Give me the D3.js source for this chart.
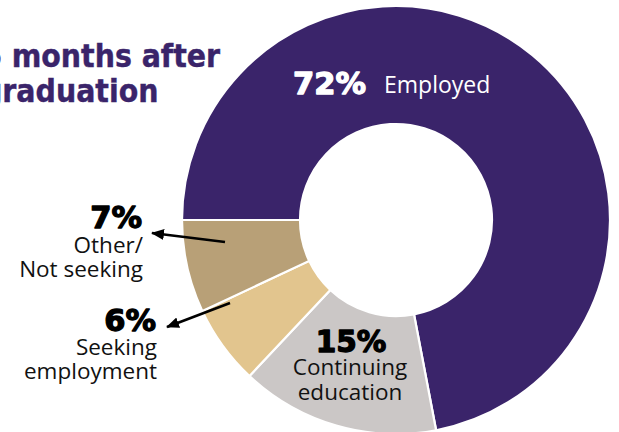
<!DOCTYPE html>
<html>
<head>
<meta charset="utf-8">
<script src="https://cdn.jsdelivr.net/npm/d3@7/dist/d3.min.js"></script>
<style>
  html, body { margin: 0; padding: 0; background: #ffffff; overflow: hidden; }
  svg { display: block; }
</style>
</head>
<body>
<svg id="chart" width="619" height="432"></svg>
<script>
// ---- data ----
const categories = ["Employed", "Continuing education", "Seeking employment", "Other/Not seeking"];
const values = [72, 15, 6, 7];
const labelLines = [["Employed"], ["Continuing", "education"], ["Seeking", "employment"], ["Other/", "Not seeking"]];
const titleLines = ["6 months after", "graduation"];

// ---- styles / layout ----
const colors = ["#3a246a", "#cbc7c6", "#e2c58e", "#b8a077"];
const W = 619, H = 432;
const cx = 396, cy = 220, rOuter = 214, rInner = 96;
const pctFont = "'DejaVu Sans', sans-serif";
const txtFont = "'Open Sans', sans-serif";
const titleFont = "'DejaVu Sans Condensed', 'DejaVu Sans', sans-serif";

const svg = d3.select("#chart");

svg.append("defs").append("marker")
  .attr("id", "arrow")
  .attr("viewBox", "0 0 13 11")
  .attr("refX", 12).attr("refY", 5.5)
  .attr("markerWidth", 13).attr("markerHeight", 11)
  .attr("markerUnits", "userSpaceOnUse")
  .attr("orient", "auto")
  .append("path").attr("d", "M0,0 L13,5.5 L0,11 Z").attr("fill", "#000");

const pie = d3.pie().sort(null).value(d => d)
  .startAngle(-Math.PI / 2).endAngle(3 * Math.PI / 2);
const arcs = pie(values);
const arc = d3.arc().innerRadius(rInner).outerRadius(rOuter);

const g = svg.append("g").attr("transform", `translate(${cx},${cy})`);
g.selectAll("path.slice").data(arcs).join("path")
  .attr("class", "slice")
  .attr("d", arc)
  .attr("fill", (d, i) => colors[i])
  .attr("stroke", "#ffffff")
  .attr("stroke-width", 2.2)
  .attr("stroke-linejoin", "miter");

// ---- title ----
const title = svg.append("text")
  .attr("font-family", titleFont).attr("font-weight", 700)
  .attr("font-size", 31.6).attr("fill", "#3a246a")
  .attr("stroke", "#3a246a").attr("stroke-width", 0.4);
titleLines.forEach((t, i) => {
  title.append("tspan").attr("x", -18).attr("y", 66.5 + i * 35.5).text(t);
});

// ---- labels ----
const fmt = v => v + "%";
function pctText(x, y, anchor, fill, size) {
  return svg.append("text").attr("x", x).attr("y", y)
    .attr("text-anchor", anchor)
    .attr("font-family", pctFont).attr("font-weight", 700).attr("font-size", size)
    .attr("fill", fill).attr("stroke", fill).attr("stroke-width", 1.3)
    .attr("stroke-linejoin", "round");
}

// Employed (inside, white)
pctText(293, 94, "start", "#fff", 30.5).text(fmt(values[0]));
svg.append("text").attr("x", 384).attr("y", 93)
  .attr("font-family", txtFont).attr("font-size", 23)
  .attr("fill", "#fff").text(labelLines[0][0]);

// Continuing education (inside, centered)
pctText(351, 352, "middle", "#000", 29.5).text(fmt(values[1]));
labelLines[1].forEach((t, i) => {
  svg.append("text").attr("x", 350).attr("y", 375 + i * 25)
    .attr("text-anchor", "middle")
    .attr("font-family", txtFont).attr("font-size", 22.5)
    .attr("fill", "#111").text(t);
});

// Outside labels, right-aligned
const outside = [
  { idx: 3, x: 142, yPct: 228, yText: 253, tail: [-171, 22], tip: [152, 233] },
  { idx: 2, x: 156, yPct: 331, yText: 355, tail: [-166, 83], tip: [167, 327] }
];
outside.forEach(o => {
  pctText(o.x, o.yPct, "end", "#000", 30.5).text(fmt(values[o.idx]));
  labelLines[o.idx].forEach((t, i) => {
    svg.append("text").attr("x", o.x + 1).attr("y", o.yText + i * 24)
      .attr("text-anchor", "end")
      .attr("font-family", txtFont).attr("font-size", 22.5)
      .attr("fill", "#111").text(t);
  });
  svg.append("line")
    .attr("x1", cx + o.tail[0]).attr("y1", cy + o.tail[1])
    .attr("x2", o.tip[0]).attr("y2", o.tip[1])
    .attr("stroke", "#000").attr("stroke-width", 2.6)
    .attr("marker-end", "url(#arrow)");
});
</script>
</body>
</html>
